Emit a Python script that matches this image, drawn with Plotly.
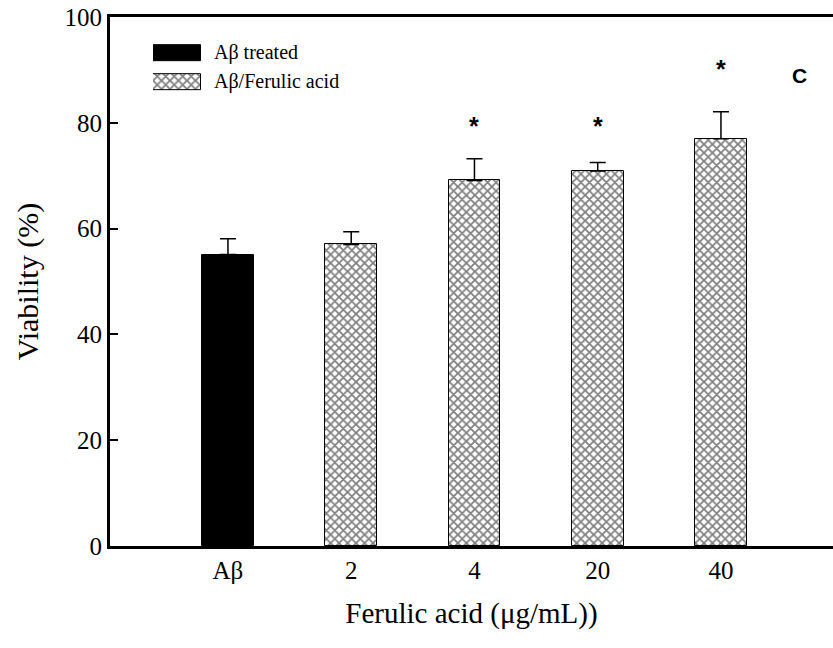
import plotly.graph_objects as go

categories = ["Aβ", "2", "4", "20", "40"]
viability = [55.1, 57.0, 69.1, 70.9, 77.0]
err_up = [3.0, 2.4, 4.1, 1.6, 5.1]
sig_y = [None, None, 80.3, 80.3, 91.1]
legend_labels = ["Aβ treated", "Aβ/Ferulic acid"]
y_ticks = [0, 20, 40, 60, 80, 100]

xpos = list(range(len(categories)))
serif = "Liberation Serif, Times New Roman, serif"
sans = "Liberation Sans, Arial, sans-serif"

fig = go.Figure()

hatch = dict(shape="x", size=6, solidity=0.5, fgcolor="black", bgcolor="white", fillmode="overlay")

# black bar
fig.add_trace(go.Bar(
    x=[xpos[0]], y=[viability[0]], width=0.42,
    marker=dict(color="black", line=dict(color="black", width=1)),
    error_y=dict(type="data", symmetric=False, array=[err_up[0]], arrayminus=[0],
                 color="black", thickness=1.5, width=8),
    showlegend=False,
))
# hatched bars
fig.add_trace(go.Bar(
    x=xpos[1:], y=viability[1:], width=0.42,
    marker=dict(color="white", line=dict(color="black", width=1), pattern=hatch),
    error_y=dict(type="data", symmetric=False, array=err_up[1:], arrayminus=[0] * 4,
                 color="black", thickness=1.5, width=8),
    showlegend=False,
))

# legend swatches on an inset axis
fig.add_trace(go.Bar(
    y=[legend_labels[0]], x=[1], orientation="h", width=0.55,
    marker=dict(color="black", line=dict(color="black", width=1)),
    xaxis="x2", yaxis="y2", showlegend=False, hoverinfo="skip",
))
fig.add_trace(go.Bar(
    y=[legend_labels[1]], x=[1], orientation="h", width=0.55,
    marker=dict(color="white", line=dict(color="black", width=1), pattern=hatch),
    xaxis="x2", yaxis="y2", showlegend=False, hoverinfo="skip",
))
for lab in legend_labels:
    fig.add_annotation(x=0.141, y=lab, xref="paper", yref="y2", text=lab,
                       showarrow=False, xanchor="left", yanchor="middle",
                       font=dict(family=serif, size=20, color="black"))

for xi, sy in zip(xpos, sig_y):
    if sy is not None:
        fig.add_annotation(x=xi, y=sy, text="<b>*</b>", showarrow=False,
                           xanchor="center", yanchor="middle", yshift=-5,
                           font=dict(family=sans, size=25, color="black"))

fig.add_annotation(x=0.953, y=88.9, xref="paper", yref="y", text="<b>C</b>",
                   showarrow=False, xanchor="center", yanchor="middle",
                   font=dict(family=sans, size=21, color="black"))

fig.update_layout(
    width=833, height=648,
    margin=dict(l=110, r=0, t=17, b=102),
    paper_bgcolor="white", plot_bgcolor="white",
    font=dict(family=serif, color="black"),
    bargap=0,
    xaxis=dict(
        range=[-0.957, 4.909], tickvals=xpos, ticktext=categories,
        showline=True, linecolor="black", linewidth=3, mirror=True,
        ticks="", showgrid=False, zeroline=False,
        tickfont=dict(family=serif, size=25, color="black"),
        title=dict(text="Ferulic acid (μg/mL))", font=dict(family=serif, size=29, color="black"), standoff=20),
    ),
    yaxis=dict(
        range=[0, 100], tickvals=y_ticks,
        showline=True, linecolor="black", linewidth=3, mirror=False,
        ticks="inside", ticklen=8, tickwidth=1.5, tickcolor="black",
        showgrid=False, zeroline=False,
        tickfont=dict(family=serif, size=25, color="black"),
        title=dict(text="Viability (%)", font=dict(family=serif, size=30, color="black"), standoff=18),
    ),
    xaxis2=dict(domain=[0.0595, 0.1259], range=[0, 1], visible=False, anchor="y2"),
    yaxis2=dict(domain=[0.85, 0.96], range=[-0.5, 1.5], visible=False, anchor="x2",
                categoryorder="array", categoryarray=[legend_labels[1], legend_labels[0]]),
)

fig.write_html("out.html")
